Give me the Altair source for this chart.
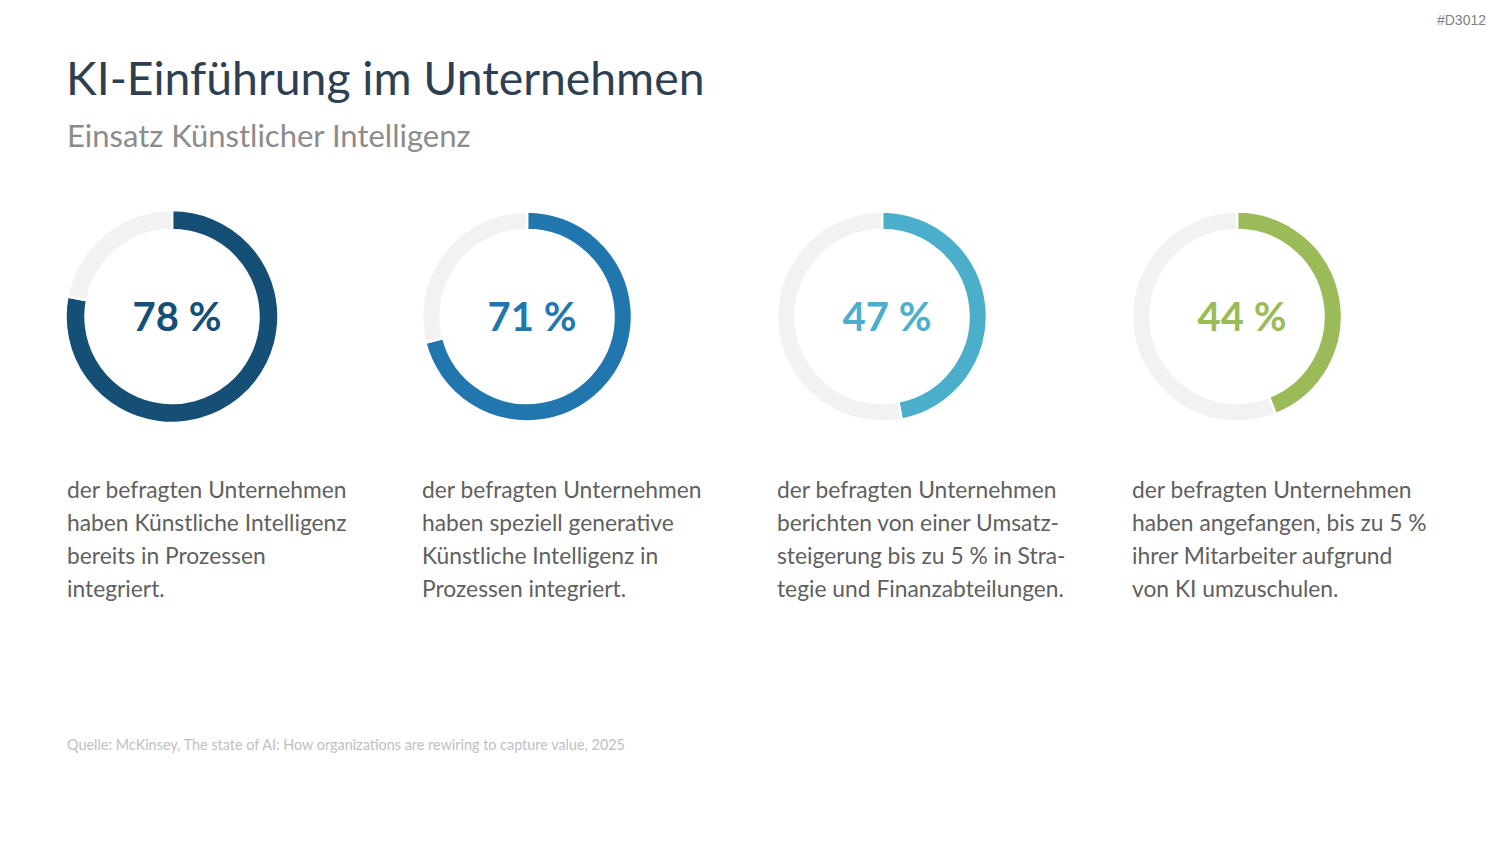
import altair as alt
import pandas as pd

# ---- data ----
values = [78, 71, 47, 44]
labels = ["78 %", "71 %", "47 %", "44 %"]
colors = ["#164f76", "#2176ae", "#4bafcc", "#9bbb59"]
descriptions = [
    "der befragten Unternehmen\nhaben Künstliche Intelligenz\nbereits in Prozessen\nintegriert.",
    "der befragten Unternehmen\nhaben speziell generative\nKünstliche Intelligenz in\nProzessen integriert.",
    "der befragten Unternehmen\nberichten von einer Umsatz-\nsteigerung bis zu 5 % in Stra-\ntegie und Finanzabteilungen.",
    "der befragten Unternehmen\nhaben angefangen, bis zu 5 %\nihrer Mitarbeiter aufgrund\nvon KI umzuschulen.",
]
title_text = "KI-Einführung im Unternehmen"
subtitle_text = "Einsatz Künstlicher Intelligenz"
source_text = "Quelle: McKinsey, The state of AI: How organizations are rewiring to capture value, 2025"
code_text = "#D3012"

TRACK = "#f2f2f2"
FONT = "Lato"

# segments: coloured part + grey remainder
rows = []
for i, v in enumerate(values):
    rows.append({"idx": i, "start": 0, "end": v, "seg": f"v{i}"})
    rows.append({"idx": i, "start": v, "end": 100, "seg": "rest"})
seg_df = pd.DataFrame(rows)

lab_df = pd.DataFrame({"idx": list(range(4)), "label": labels, "desc": descriptions,
                       "col": colors})

seg_domain = [f"v{i}" for i in range(4)] + ["rest"]
seg_range = colors + [TRACK]

xscale = alt.Scale(type="point", domain=[0, 1, 2, 3], range=[172, 1237], padding=0)
X = alt.X("idx:O", scale=xscale, axis=None)

base_arc = alt.Chart(seg_df).encode(
    x=X,
    y=alt.value(316.5),
    theta=alt.Theta("start:Q", scale=alt.Scale(domain=[0, 100], range=[0, 6.283185307])),
    theta2="end:Q",
    color=alt.Color("seg:N", scale=alt.Scale(domain=seg_domain, range=seg_range), legend=None),
)
arc_first = base_arc.transform_filter("datum.idx == 0").mark_arc(
    outerRadius=106.5, innerRadius=86.5, stroke="white", strokeWidth=2.5)
arc_rest = base_arc.transform_filter("datum.idx > 0").mark_arc(
    outerRadius=105, innerRadius=86.5, stroke="white", strokeWidth=2.5)

pct = alt.Chart(lab_df).mark_text(
    font=FONT, fontWeight="bold", fontSize=40, align="center", baseline="alphabetic", dx=5
).encode(
    x=X, y=alt.value(331),
    text="label:N",
    color=alt.Color("col:N", scale=None),
)

desc = alt.Chart(lab_df).mark_text(
    font=FONT, fontSize=22.8, align="left", baseline="alphabetic", lineBreak="\n",
    lineHeight=33, dx=-105, color="#5f5f5f"
).encode(x=X, y=alt.value(498), text="desc:N")

def annot(text, x, y, size, color, weight="normal", align="left"):
    return alt.Chart(pd.DataFrame({"t": [text]})).mark_text(
        font=FONT, fontSize=size, color=color, fontWeight=weight, align=align,
        baseline="alphabetic"
    ).encode(x=alt.value(x), y=alt.value(y), text="t:N")

title = annot(title_text, 66, 95, 46.3, "#2e3f52")
subtitle = annot(subtitle_text, 67, 147, 31, "#8c8c8c")
source = annot(source_text, 67, 750, 14.4, "#bfbfbf")
code = alt.Chart(pd.DataFrame({"t": [code_text]})).mark_text(
    font="Liberation Sans", fontSize=14, color="#808080", align="right", baseline="alphabetic"
).encode(x=alt.value(1486), y=alt.value(25), text="t:N")

chart = alt.layer(arc_first, arc_rest, pct, desc, title, subtitle, source, code).properties(
    width=1500, height=844, autosize=alt.AutoSizeParams(type="none"), padding=0,
    background="white"
).configure_view(stroke=None)

chart.save("out.html", embed_options={"renderer": "svg", "actions": False})
